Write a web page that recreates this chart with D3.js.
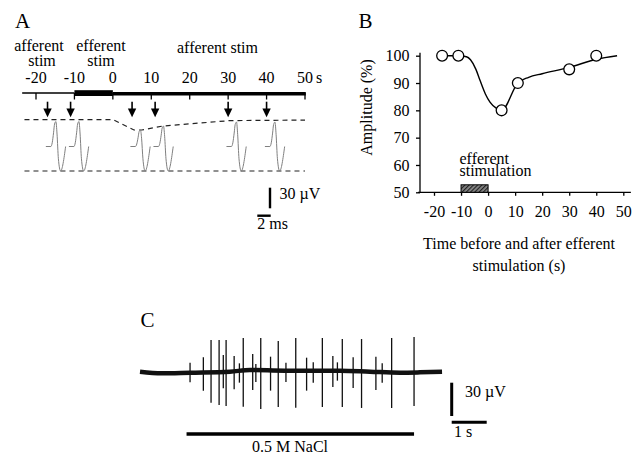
<!DOCTYPE html>
<html>
<head>
<meta charset="utf-8">
<script src="https://cdn.jsdelivr.net/npm/d3@7"></script>
<style>
  body { margin: 0; background: #fff; }
  svg { font-family: "Liberation Serif", "Times New Roman", serif; }
</style>
</head>
<body>
<div id="root"></div>
<script>
// afferent test stimuli (s) and response amplitude (%) – panel B
const stimTimes = [-17, -11, 5, 11, 30, 40];
const amplitudePct = [100, 100, 80, 90, 95, 100];
// fitted curve in B
const fitTimes = [-17, -11, -8, -6.5, -4.5, -3, -1, 0.7, 3, 5, 11, 15, 20, 30, 40, 47.7];
const fitPct   = [100, 100, 99.6, 98.5, 95, 91, 86, 83, 80.8, 80, 90, 92.1, 93.4, 95.7, 98.7, 100];
const effStim = [-10, 0];

// panel A: amplitude of each drawn trace and the dashed envelope
const traceAmpPct = [100, 100, 83, 91, 99, 99];
const envTimes = [-23, 0, 5.5, 7.5, 13, 30.5, 50];
const envPct   = [104, 104, 83, 83, 91, 102, 103];
const ticksA = [-20, -10, 0, 10, 20, 30, 40, 50];
// compound action potential shape (ms after stimulus, fraction of peak/trough)
const waveMs    = [-0.25, 0.5, 0.7, 0.9, 1.05, 1.25, 1.42, 1.62, 1.95, 2.7];
const waveShape = [0, 0, 0.15, 0.55, 0.9, 1, 0.5, -0.5, -1, 0];
const totalUV = 72, troughUV = 35.7;

// panel C: spikes during 0.5 M NaCl
const spikeTimes = [1.43,1.81,2.03,2.26,2.38,2.46,2.69,2.84,2.95,3.22,3.31,3.45,3.73,3.95,4.17,4.45,4.76,4.95,5.21,5.51,5.64,5.78,6.09,6.33,6.74,6.92,7.19,7.83];
const spikeUp   = [7.5,12.3,27.9,27.9,14.4,27.9,13.5,6.9,29.7,15.3,6.3,29.7,12.9,27,7.5,29.7,12,7.8,29.7,13.5,7.8,28.8,12.3,28.8,12.9,6.9,29.7,30.6];
const spikeDown = [-10.2,-17.7,-28.5,-30.6,-15.6,-31.5,-16.5,-10.5,-32.1,-17.1,-9.9,-34.2,-17.7,-32.4,-9.9,-33,-17.7,-10.5,-32.4,-14.4,-8.7,-32.4,-15.3,-33.3,-17.1,-10.5,-33.3,-31.5];
const baseTimes = [0, 0.62, 1.43, 2.57, 3.14, 4.14, 5.71, 6.57, 7.43, 8.0, 8.63];
const baseUV    = [-0.6, -2.1, -1.5, -0.6, 0.9, 0.3, 0.3, -0.6, -1.5, -1.2, -0.6];
const naclOn = [1.33, 7.83];

const W = 639, H = 455;
const svg = d3.select('#root').append('svg').attr('width', W).attr('height', H);
const defs = svg.append('defs');
const pat = defs.append('pattern').attr('id', 'hatch').attr('width', 3).attr('height', 3)
  .attr('patternUnits', 'userSpaceOnUse').attr('patternTransform', 'rotate(45)');
pat.append('rect').attr('width', 3).attr('height', 3).attr('fill', '#8a8a8a');
pat.append('line').attr('x1', 0.5).attr('y1', 0).attr('x2', 0.5).attr('y2', 3)
  .attr('stroke', '#222').attr('stroke-width', 1.4);

const label = (x, y, t, size, anchor) => svg.append('text')
  .attr('x', x).attr('y', y).attr('font-size', size || 16)
  .attr('text-anchor', anchor || 'middle').text(t);

// ---------- Panel A ----------
label(15, 28.3, 'A', 21, 'start');
const xA = d3.scaleLinear().domain([-20, 50]).range([36, 305]);
const ms = d3.scaleLinear().domain([0, 2]).range([0, 13.4]);
const uv = d3.scaleLinear().domain([0, 30]).range([146.5, 125.9]);
const ampToUV = p => totalUV * p / 100 - troughUV;
const gA = svg.append('g');

label(39, 50.5, 'afferent'); label(42, 66, 'stim');
label(101, 50.5, 'efferent'); label(101, 66, 'stim');
label(217.5, 52.5, 'afferent stim');

ticksA.forEach(t => {
  label(xA(t), 83.3, t < 0 ? '-' + Math.abs(t) : String(t));
});
label(xA(50) + 11, 83.3, 's', 16, 'start');

// time line
gA.append('line').attr('x1', xA(-23.6)).attr('x2', xA(effStim[0])).attr('y1', 93).attr('y2', 93)
  .attr('stroke', '#000').attr('stroke-width', 1.3);
gA.append('rect').attr('x', xA(effStim[0])).attr('width', xA(effStim[1]) - xA(effStim[0]))
  .attr('y', 90.2).attr('height', 5.8).attr('fill', '#000');
gA.append('line').attr('x1', xA(effStim[1])).attr('x2', xA(50) + 0.8).attr('y1', 93.8).attr('y2', 93.8)
  .attr('stroke', '#000').attr('stroke-width', 3.6);
ticksA.forEach(t => {
  gA.append('line').attr('x1', xA(t)).attr('x2', xA(t)).attr('y1', 93).attr('y2', 99.5)
    .attr('stroke', '#000').attr('stroke-width', 1.3);
});

// arrows
stimTimes.forEach(t => {
  const x = xA(t);
  gA.append('line').attr('x1', x).attr('x2', x).attr('y1', 101.7).attr('y2', 110)
    .attr('stroke', '#000').attr('stroke-width', 1.6);
  gA.append('path').attr('d', `M${x - 4.2},108.5 L${x + 4.2},108.5 L${x},117.3 Z`).attr('fill', '#000');
});

// dashed envelope and trough line
const envLine = d3.line().x((d, i) => xA(envTimes[i])).y(d => uv(ampToUV(d)));
gA.append('path').attr('d', envLine(envPct)).attr('fill', 'none')
  .attr('stroke', '#222').attr('stroke-width', 1.2).attr('stroke-dasharray', '5,4');
gA.append('line').attr('x1', xA(-23)).attr('x2', xA(50)).attr('y1', uv(-troughUV)).attr('y2', uv(-troughUV))
  .attr('stroke', '#222').attr('stroke-width', 1.2).attr('stroke-dasharray', '5,4');

// traces
stimTimes.forEach((t, k) => {
  const peak = ampToUV(traceAmpPct[k]);
  const line = d3.line().curve(d3.curveMonotoneX)
    .x((d, i) => xA(t) + ms(waveMs[i]))
    .y(d => uv(d > 0 ? d * peak : d * troughUV));
  gA.append('path').attr('d', line(waveShape)).attr('fill', 'none')
    .attr('stroke', '#808080').attr('stroke-width', 1);
});

// scale bars A
gA.append('line').attr('x1', 270).attr('x2', 270).attr('y1', 208.3).attr('y2', 208.3 - (uv(0) - uv(30)))
  .attr('stroke', '#000').attr('stroke-width', 2.4);
gA.append('line').attr('x1', 270.7 - ms(2)).attr('x2', 270.7).attr('y1', 215.7).attr('y2', 215.7)
  .attr('stroke', '#000').attr('stroke-width', 2.4);
label(279.5, 199, '30 µV', 16, 'start');
label(257.3, 229, '2 ms', 16, 'start');

// ---------- Panel B ----------
label(358.5, 28.3, 'B', 21, 'start');
const xB = d3.scaleLinear().domain([-20, 50]).range([434, 623.3]);
const yB = d3.scaleLinear().domain([50, 100]).range([192.3, 55.7]);
const gB = svg.append('g');

gB.append('line').attr('x1', xB(-25.9)).attr('x2', xB(52.8)).attr('y1', yB(50)).attr('y2', yB(50))
  .attr('stroke', '#000').attr('stroke-width', 1.3);
gB.append('line').attr('x1', 420).attr('x2', 420).attr('y1', yB(50)).attr('y2', yB(101.1))
  .attr('stroke', '#000').attr('stroke-width', 1.3);

const ax = gB.append('g').attr('transform', `translate(0,${yB(50)})`)
  .call(d3.axisBottom(xB).tickValues(ticksA).tickSize(3.5).tickPadding(10)
    .tickFormat(d => d < 0 ? '-' + Math.abs(d) : d));
const ay = gB.append('g').attr('transform', 'translate(420,0)')
  .call(d3.axisLeft(yB).tickValues([50, 60, 70, 80, 90, 100]).tickSize(4).tickPadding(6.5));
[ax, ay].forEach(g => {
  g.select('.domain').remove();
  g.selectAll('line').attr('stroke', '#000').attr('stroke-width', 1.3);
  g.selectAll('text').attr('font-family', '"Liberation Serif", "Times New Roman", serif')
    .attr('font-size', 16).attr('fill', '#000');
});

gB.append('rect').attr('x', xB(effStim[0])).attr('width', xB(effStim[1]) - xB(effStim[0]))
  .attr('y', yB(50) - 7.5).attr('height', 7.5)
  .attr('fill', 'url(#hatch)').attr('stroke', '#000').attr('stroke-width', 1);
label(459.5, 164, 'efferent', 16, 'start');
label(459.5, 176, 'stimulation', 16, 'start');

const fit = d3.line().curve(d3.curveMonotoneX).x((d, i) => xB(fitTimes[i])).y(d => yB(d));
gB.append('path').attr('d', fit(fitPct)).attr('fill', 'none').attr('stroke', '#000').attr('stroke-width', 1.4);
gB.selectAll('circle.pt').data(amplitudePct).join('circle')
  .attr('cx', (d, i) => xB(stimTimes[i])).attr('cy', d => yB(d)).attr('r', 5.4)
  .attr('fill', '#fff').attr('stroke', '#000').attr('stroke-width', 1.3);

svg.append('text').attr('transform', 'translate(372,107.5) rotate(-90)')
  .attr('text-anchor', 'middle').attr('font-size', 16).text('Amplitude (%)');
label(519, 249, 'Time before and after efferent');
label(519, 271, 'stimulation (s)');

// ---------- Panel C ----------
label(140.5, 326.7, 'C', 21, 'start');
const xC = d3.scaleLinear().domain([0, 1]).range([140, 175]);
const yC = d3.scaleLinear().domain([0, 30]).range([371, 337.7]);
const gC = svg.append('g');

gC.selectAll('line.sp').data(spikeTimes).join('line')
  .attr('x1', d => xC(d)).attr('x2', d => xC(d))
  .attr('y1', (d, i) => yC(spikeUp[i])).attr('y2', (d, i) => yC(spikeDown[i]))
  .attr('stroke', '#111').attr('stroke-width', 1.3);
const base = d3.line().curve(d3.curveMonotoneX).x((d, i) => xC(baseTimes[i])).y(d => yC(d));
gC.append('path').attr('d', base(baseUV)).attr('fill', 'none')
  .attr('stroke', '#111').attr('stroke-width', 4.5);

gC.append('line').attr('x1', xC(naclOn[0])).attr('x2', xC(naclOn[1])).attr('y1', 434).attr('y2', 434)
  .attr('stroke', '#000').attr('stroke-width', 3.5);
label(290, 451.5, '0.5 M NaCl');

gC.append('line').attr('x1', 451.7).attr('x2', 451.7).attr('y1', 416).attr('y2', 416 - (yC(0) - yC(30)))
  .attr('stroke', '#000').attr('stroke-width', 3);
gC.append('line').attr('x1', 451.7).attr('x2', 451.7 + xC(1) - xC(0)).attr('y1', 422.3).attr('y2', 422.3)
  .attr('stroke', '#000').attr('stroke-width', 3);
label(465, 396.5, '30 µV', 16, 'start');
label(454, 437, '1 s', 16, 'start');
</script>
</body>
</html>
